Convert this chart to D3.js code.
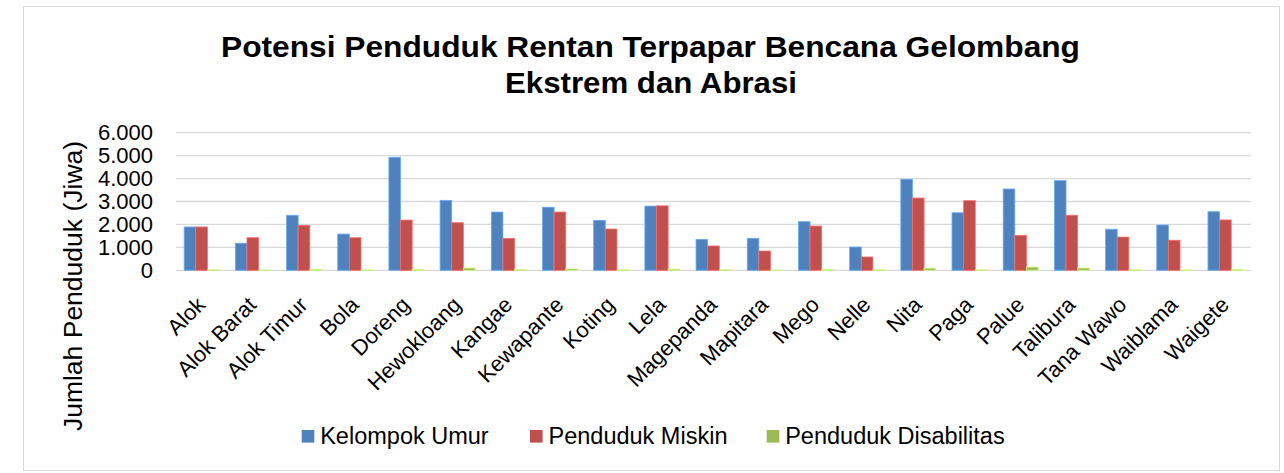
<!DOCTYPE html>
<html>
<head>
<meta charset="utf-8">
<script src="https://cdn.jsdelivr.net/npm/d3@7"></script>
<style>
  html, body { margin: 0; padding: 0; background: #fff; }
  svg { display: block; font-family: "Liberation Sans", Arial, sans-serif; }
</style>
</head>
<body>
<svg id="chart" width="1284" height="473"></svg>
<script>
// Desa / kelurahan
const categories = ["Alok", "Alok Barat", "Alok Timur", "Bola", "Doreng", "Hewokloang", "Kangae",
  "Kewapante", "Koting", "Lela", "Magepanda", "Mapitara", "Mego", "Nelle", "Nita", "Paga",
  "Palue", "Talibura", "Tana Wawo", "Waiblama", "Waigete"];

// Jumlah penduduk rentan (jiwa) per kelompok
const kelompokUmur = [1890, 1180, 2400, 1580, 4930, 3050, 2540, 2750, 2180, 2800, 1350,
  1395, 2120, 1015, 3970, 2510, 3545, 3910, 1790, 1975, 2555];
const pendudukMiskin = [1890, 1420, 1960, 1420, 2190, 2075, 1395, 2540, 1800, 2810, 1060,
  840, 1930, 580, 3150, 3035, 1525, 2400, 1450, 1310, 2195];
const pendudukDisabilitas = [20, 10, 40, 15, 40, 100, 30, 60, 20, 50, 20,
  10, 30, 20, 90, 20, 140, 100, 20, 10, 30];

const seriesNames = ["Kelompok Umur", "Penduduk Miskin", "Penduduk Disabilitas"];
const seriesColors = ["#4F81BD", "#C0504D", "#9BBB59"];
const yTicks = [0, 1000, 2000, 3000, 4000, 5000, 6000];

const series = [kelompokUmur, pendudukMiskin, pendudukDisabilitas];

const svg = d3.select("#chart");

// Outer chart border
svg.append("rect")
  .attr("x", 23.5).attr("y", 6.5)
  .attr("width", 1256).attr("height", 464)
  .attr("fill", "#fff").attr("stroke", "#d9d9d9").attr("stroke-width", 1);

const plot = { left: 176, right: 1251, top: 132.7, bottom: 270.3 };

const x = d3.scaleBand().domain(categories).range([plot.left, plot.right]).paddingInner(0).paddingOuter(0);
const groupWidth = x.bandwidth() * (3 / 4.4);
const xs = d3.scaleBand().domain(d3.range(3)).range([0, groupWidth]).padding(0);
const y = d3.scaleLinear().domain([0, 6000]).range([plot.bottom, plot.top]);

// Gridlines
svg.append("g")
  .selectAll("line")
  .data(yTicks)
  .join("line")
  .attr("x1", plot.left).attr("x2", plot.right)
  .attr("y1", d => y(d)).attr("y2", d => y(d))
  .attr("stroke", "#d9d9d9").attr("stroke-width", 1.3);

// Y axis tick labels (Indonesian thousands separator)
const fmt = d => d3.format(",")(d).replace(/,/g, ".");
svg.append("g")
  .attr("transform", `translate(${plot.left - 23},0)`)
  .call(d3.axisLeft(y).tickValues(yTicks).tickFormat(fmt).tickSize(0).tickPadding(0))
  .call(g => g.select(".domain").remove())
  .call(g => g.selectAll("text")
    .attr("font-size", 22).attr("fill", "#000")
    .attr("font-family", "'Liberation Sans', Arial, sans-serif"));

// Bars
const groups = svg.append("g")
  .selectAll("g")
  .data(categories)
  .join("g")
  .attr("transform", d => `translate(${x(d) + (x.bandwidth() - groupWidth) / 2},0)`);

groups.selectAll("rect")
  .data((d, i) => series.map((s, k) => ({ k, v: s[i] })))
  .join("rect")
  .attr("x", d => xs(d.k))
  .attr("y", d => y(d.v))
  .attr("width", xs.bandwidth())
  .attr("height", d => y(0) - y(d.v))
  .attr("fill", d => seriesColors[d.k])
  .attr("stroke", d => d3.color(seriesColors[d.k]).brighter(0.8))
  .attr("stroke-width", 0.8);

// Category labels, rotated
svg.append("g")
  .selectAll("text")
  .data(categories)
  .join("text")
  .attr("transform", d => `translate(${x(d) + x.bandwidth() / 2 - 6},${plot.bottom + 25}) rotate(-45)`)
  .attr("text-anchor", "end")
  .attr("dy", "0.7em")
  .attr("font-size", 22)
  .attr("fill", "#000")
  .text(d => d);

// Y axis title
svg.append("text")
  .attr("transform", "translate(82,286) rotate(-90)")
  .attr("text-anchor", "middle")
  .attr("font-size", 26.5)
  .attr("fill", "#000")
  .text("Jumlah Penduduk (Jiwa)");

// Chart title
const title = svg.append("g")
  .attr("font-size", 29)
  .attr("font-weight", "bold")
  .attr("fill", "#000");
title.append("text").attr("x", 221).attr("y", 56.5)
  .attr("textLength", 859).attr("lengthAdjust", "spacingAndGlyphs")
  .text("Potensi Penduduk Rentan Terpapar Bencana Gelombang");
title.append("text").attr("x", 505).attr("y", 93)
  .attr("textLength", 292).attr("lengthAdjust", "spacingAndGlyphs")
  .text("Ekstrem dan Abrasi");

// Legend
const legendX = [301.7, 530, 766.7];
const legend = svg.append("g")
  .selectAll("g")
  .data(seriesNames)
  .join("g")
  .attr("transform", (d, i) => `translate(${legendX[i]},430)`);
legend.append("rect")
  .attr("width", 12.6).attr("height", 12.6)
  .attr("fill", (d, i) => seriesColors[i]);
legend.append("text")
  .attr("x", 18.5).attr("y", 14)
  .attr("font-size", 23.5)
  .attr("fill", "#000")
  .text(d => d);
</script>
</body>
</html>
